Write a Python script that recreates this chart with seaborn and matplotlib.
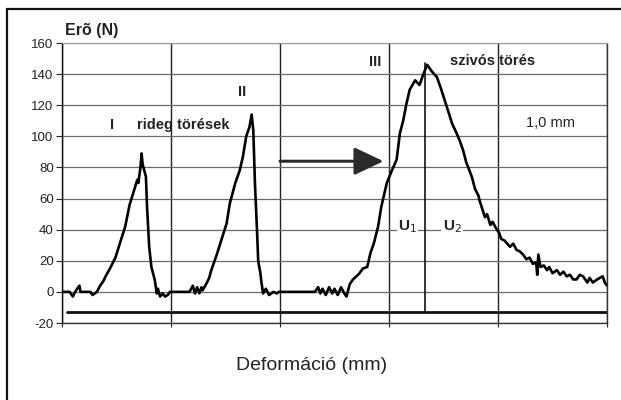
"""Erő–deformáció görbe: rideg és szívós törések."""

import matplotlib.pyplot as plt
import pandas as pd
import seaborn as sns
from matplotlib.lines import Line2D

# deformation (mm) and force (N)
deformation = [
    0.00, 0.07, 0.10, 0.12, 0.16, 0.17, 0.26, 0.28, 0.32, 0.35, 0.38, 0.40,
    0.44, 0.49, 0.53, 0.58, 0.62, 0.66, 0.69, 0.70, 0.72, 0.73, 0.74, 0.77,
    0.78, 0.80, 0.82, 0.835, 0.85, 0.87, 0.88, 0.90, 0.925, 0.945, 0.97, 0.99,
    1.17, 1.20, 1.22, 1.24, 1.26, 1.28, 1.29, 1.33, 1.35, 1.37, 1.39, 1.42,
    1.47, 1.51, 1.54, 1.59, 1.63, 1.66, 1.69, 1.72, 1.74, 1.755, 1.77, 1.79,
    1.80, 1.82, 1.83, 1.845, 1.87, 1.90, 1.94, 1.97, 1.99, 2.32, 2.35, 2.37,
    2.39, 2.42, 2.45, 2.48, 2.50, 2.53, 2.56, 2.59, 2.61, 2.64, 2.67, 2.70,
    2.73, 2.76, 2.80, 2.83, 2.86, 2.90, 2.93, 2.98, 3.02, 3.07, 3.10, 3.13,
    3.16, 3.19, 3.24, 3.28, 3.31, 3.35, 3.39, 3.44, 3.48, 3.53, 3.58, 3.62,
    3.65, 3.68, 3.71, 3.76, 3.79, 3.82, 3.83, 3.88, 3.90, 3.93, 3.95, 3.99,
    4.01, 4.03, 4.06, 4.11, 4.14, 4.17, 4.20, 4.23, 4.26, 4.29, 4.32, 4.35,
    4.36, 4.37, 4.39, 4.42, 4.45, 4.47, 4.50, 4.54, 4.57, 4.60, 4.63, 4.66,
    4.69, 4.72, 4.75, 4.78, 4.82, 4.84, 4.87, 4.91, 4.96, 4.98, 5.00,
]
force = [
    0, 0, -3, 0, 4, 0, 0, -2, 0, 4, 7, 10,
    15, 22, 31, 42, 56, 65, 72, 70, 80, 89, 82, 74,
    55, 29, 16, 12, 8, -1, 2, -3, -1, -3, -2, 0,
    0, 4, -1, 3, -1, 3, 1, 6, 9, 14, 18, 24,
    35, 44, 57, 70, 78, 87, 100, 106, 114, 104, 70, 38,
    20, 12, 6, -1, 2, -2, 0, -1, 0, 0, 3, -1,
    2, -2, 3, -1, 2, -2, 3, -1, -3, 5, 8, 10,
    12, 15, 16, 25, 31, 42, 55, 70, 77, 85, 102, 110,
    121, 130, 136, 133, 139, 146, 142, 138, 130, 119, 108, 102,
    97, 91, 83, 74, 66, 62, 59, 48, 50, 43, 45, 40,
    38, 34, 33, 29, 31, 27, 26, 24, 21, 22, 18, 19,
    11, 24, 16, 17, 14, 16, 12, 14, 11, 13, 10, 11,
    8, 8, 11, 10, 6, 9, 6, 8, 10, 6, 4,
]

y_ticks = [-20, 0, 20, 40, 60, 80, 100, 120, 140, 160]
x_ticks = [0, 1, 2, 3, 4, 5]

ref_level = -13        # reference line under the curve
u_split = 3.33         # U1 / U2 boundary
u_top = 147
arrow_from = (2.0, 84)
arrow_to = (2.95, 84)

sns.set_style("white")
plt.rcParams["font.family"] = ["Liberation Sans", "DejaVu Sans"]
plt.rcParams["axes.unicode_minus"] = False

df = pd.DataFrame({"deformacio": deformation, "ero": force})

fig = plt.figure(figsize=(6.21, 4.0), dpi=100)
ax = fig.add_axes([62 / 621, 1 - 323 / 400, 545 / 621, 280 / 400])

ax.set_xlim(0, 5)
ax.set_ylim(-20, 160)
ax.set_yticks(y_ticks)
ax.set_xticks(x_ticks)
ax.set_xticklabels([])
ax.tick_params(axis="y", direction="out", length=4, width=0.8, colors="#222",
               labelsize=9.5, pad=2, left=True)
ax.tick_params(axis="x", direction="out", length=3, width=0.8, colors="#222",
               bottom=True)
ax.grid(axis="y", color="#6a6a6a", lw=0.9)
ax.grid(axis="x", color="#222", lw=1.0)
ax.set_axisbelow(True)

for side in ["left", "bottom", "right"]:
    ax.spines[side].set_visible(True)
    ax.spines[side].set_color("#333")
    ax.spines[side].set_linewidth(1.0)
ax.spines["left"].set_color("#111")
ax.spines["top"].set_color("#999")
ax.spines["top"].set_linestyle((0, (1, 1)))

sns.lineplot(data=df, x="deformacio", y="ero", ax=ax, color="black", lw=1.9,
             sort=False, estimator=None)
ax.set_xlabel("")
ax.set_ylabel("")

ax.plot([0.05, 5], [ref_level, ref_level], color="#111", lw=2.0)
ax.plot([u_split, u_split], [ref_level, u_top], color="#111", lw=1.2)
ax.annotate("", xy=arrow_to, xytext=arrow_from,
            arrowprops=dict(arrowstyle="-|>,head_length=1.8,head_width=0.85",
                            color="#2a2a2a", lw=2.2, shrinkA=0, shrinkB=0))

label_kw = dict(fontsize=10.5, fontweight="bold", color="#222", va="center")
ax.text(0.46, 107, "I", ha="center", **label_kw)
ax.text(0.69, 107.5, "rideg törések", ha="left", **label_kw)
ax.text(1.65, 128.5, "II", ha="center", **label_kw)
ax.text(2.87, 148, "III", ha="center", **label_kw)
ax.text(3.56, 148.5, "szivós törés", ha="left", **label_kw)
ax.text(4.48, 108.5, "1,0 mm", ha="center", va="center", fontsize=10.5, color="#222")
box = dict(facecolor="white", edgecolor="none", pad=1.0)
u_kw = dict(label_kw, fontsize=11)
ax.text(3.17, 42, "U$_1$", ha="center", bbox=box, **u_kw)
ax.text(3.58, 42, "U$_2$", ha="center", bbox=box, **u_kw)

fig.text(65 / 621, 1 - 31 / 400, "Erõ (N)", fontsize=11.5, fontweight="bold",
         color="#222", ha="left", va="center")
fig.text(312 / 621, 1 - 365 / 400, "Deformáció (mm)", fontsize=14,
         color="#222", ha="center", va="center")

# outer frame of the scanned figure
fig.add_artist(Line2D([7 / 621, 1], [1 - 9 / 400, 1 - 9 / 400], color="#111", lw=1.6))
fig.add_artist(Line2D([7 / 621, 7 / 621], [0, 1 - 9 / 400], color="#111", lw=1.6))

fig.savefig("out.png", dpi=100)
